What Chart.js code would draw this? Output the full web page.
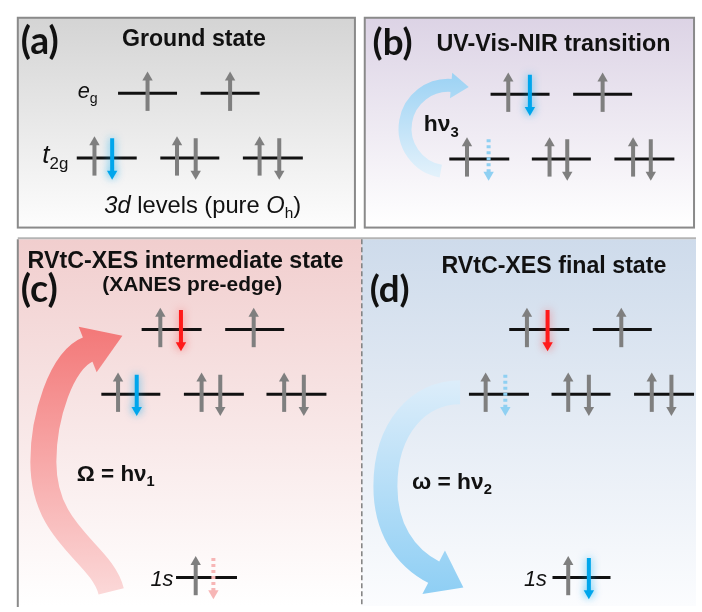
<!DOCTYPE html>
<html>
<head>
    <title>3d levels - RVtC-XES scheme</title>
    <style>
        html, body {
            margin: 0;
            padding: 0;
            background: #ffffff;
        }
        #diagram {
            display: block;
        }
    </style>
    <script src="https://cdn.jsdelivr.net/npm/chart.js"></script>
</head>
<body>
    <canvas id="diagram" width="702" height="612"></canvas>
    <script>
        // energy level bars, [xStart, xEnd, y] in picture units
        const levelsA = [[114, 174, 89], [198, 258, 89], [72, 133, 155], [157, 217, 155], [241, 302, 155]];
        const levelsB = [[493, 553, 90], [577, 637, 90], [451, 512, 156], [535, 595, 156], [619, 680, 156]];
        const levelsC = [[138, 199, 330], [223, 283, 330], [97, 157, 396], [181, 242, 396], [265, 326, 396], [173, 235, 583]];
        const levelsD = [[512, 573, 330], [597, 657, 330], [471, 532, 396], [555, 615, 396], [639, 700, 396], [556, 615, 583]];

        // electrons, [x, y of the level they sit on]
        const spinUp = [
            [144, 89], [228, 89], [90, 155], [174, 155], [258, 155],
            [511, 90], [607, 90], [469, 156], [553, 156], [638, 156],
            [157, 330], [252, 330], [114, 396], [199, 396], [283, 396], [193, 583],
            [530, 330], [626, 330], [488, 396], [572, 396], [657, 396], [572, 583]
        ];
        const spinDown = [[193, 155], [278, 155], [571, 156], [656, 156], [218, 396], [303, 396], [593, 396], [677, 396]];
        const spinDownBlue = [[108, 155], [533, 90], [133, 396], [593, 583]];
        const spinDownRed = [[178, 330], [551, 330]];
        const holeBlue = [[491, 156], [508, 396]];
        const holePink = [[211, 583]];

        const panelLetters = ['(a)', '(b)', '(c)', '(d)'];
        const panelTitles = ['Ground state', 'UV-Vis-NIR transition', 'RVtC-XES intermediate state', 'RVtC-XES final state'];
        const subTitle = '(XANES pre-edge)';

        const GRAY = '#7f7f7f';
        const HEAD = 6;

        const datasets = [];

        [levelsA, levelsB, levelsC, levelsD].flat().forEach(l => {
            datasets.push({
                data: [{ x: l[0], y: l[2] }, { x: l[1], y: l[2] }],
                borderColor: '#111111',
                borderWidth: 3,
                pointRadius: 0,
                order: 2
            });
        });

        function spin(s, up, color, extra) {
            const x = s[0], y = s[1];
            const pts = up
                ? [{ x: x, y: y + 18 }, { x: x, y: y - 22 + HEAD }]
                : [{ x: x, y: y - 20 }, { x: x, y: y + 22 - HEAD }];
            datasets.push(Object.assign({
                data: pts,
                borderColor: color,
                borderWidth: 4,
                borderCapStyle: 'butt',
                pointRadius: [0, HEAD],
                pointStyle: 'triangle',
                pointRotation: up ? 0 : 180,
                pointBackgroundColor: color,
                pointBorderWidth: 0,
                order: 1
            }, extra || {}));
        }

        spinUp.forEach(s => spin(s, true, GRAY));
        spinDown.forEach(s => spin(s, false, GRAY));
        spinDownBlue.forEach(s => spin(s, false, '#00a6ec', { glow: 'rgba(0,170,240,0.7)' }));
        spinDownRed.forEach(s => spin(s, false, '#ff1a1a', { glow: 'rgba(255,60,60,0.55)' }));
        holeBlue.forEach(s => spin(s, false, '#8fd0f2', { borderDash: [3, 3] }));
        holePink.forEach(s => spin(s, false, '#f7b6b6', { borderDash: [3, 3] }));

        // text runs: t text, b bold, i italic, s subscript
        function runFont(r, size) {
            const fam = r.f || '"Liberation Sans", Arial, sans-serif';
            return (r.i ? 'italic ' : '') + (r.b ? 'bold ' : '') + (r.s ? size * 0.65 : size) + 'px ' + fam;
        }
        function drawRuns(ctx, runs, x, y, width) {
            let total = 0;
            runs.forEach(r => { ctx.font = runFont(r, 100); total += ctx.measureText(r.t).width; });
            const size = 100 * width / total;
            let cx = x;
            runs.forEach(r => {
                ctx.font = runFont(r, size);
                ctx.fillText(r.t, cx, y + (r.s ? size * 0.22 : 0));
                cx += ctx.measureText(r.t).width;
            });
        }

        function curvedArrow(ctx, X, Y, path, lw, grad, head) {
            ctx.save();
            ctx.beginPath();
            path();
            ctx.lineWidth = lw;
            ctx.lineCap = 'butt';
            ctx.strokeStyle = grad;
            ctx.stroke();
            const ex = head[0], ey = head[1], hw = head[4], len = head[5];
            const m = Math.hypot(head[2], head[3]);
            const dx = head[2] / m, dy = head[3] / m;
            ctx.beginPath();
            ctx.moveTo(X(ex - dx - dy * hw), Y(ey - dy + dx * hw));
            ctx.lineTo(X(ex + dx * len), Y(ey + dy * len));
            ctx.lineTo(X(ex - dx + dy * hw), Y(ey - dy - dx * hw));
            ctx.closePath();
            ctx.fillStyle = grad;
            ctx.fill();
            ctx.restore();
        }

        const diagramPlugin = {
            id: 'diagram',
            beforeDraw(chart) {
                const ctx = chart.ctx;
                const X = v => chart.scales.x.getPixelForValue(v);
                const Y = v => chart.scales.y.getPixelForValue(v);
                ctx.save();
                function panel(x0, y0, x1, y1, top, bottom) {
                    const g = ctx.createLinearGradient(0, Y(y0), 0, Y(y1));
                    g.addColorStop(0, top);
                    g.addColorStop(1, bottom);
                    ctx.fillStyle = g;
                    ctx.fillRect(X(x0), Y(y0), X(x1) - X(x0), Y(y1) - Y(y0));
                }
                panel(12, 12, 355, 226, '#d4d4d4', '#fdfdfd');
                panel(365, 12, 701, 226, '#dcd3e5', '#ffffff');
                panel(12, 238, 362, 612, '#f1cece', '#ffffff');
                panel(362, 238, 702, 612, '#cedbeb', '#fbfcfe');

                ctx.strokeStyle = '#8a8a8a';
                ctx.lineWidth = 2;
                ctx.strokeRect(X(12), Y(12), X(355) - X(12), Y(226) - Y(12));
                ctx.strokeRect(X(365), Y(12), X(700) - X(365), Y(226) - Y(12));
                ctx.beginPath();
                ctx.moveTo(X(12), Y(613));
                ctx.lineTo(X(12), Y(238));
                ctx.stroke();
                ctx.strokeStyle = '#b4b4b4';
                ctx.beginPath();
                ctx.moveTo(X(12), Y(237));
                ctx.lineTo(X(702), Y(237));
                ctx.stroke();

                ctx.strokeStyle = '#7f7f7f';
                ctx.lineWidth = 1.5;
                ctx.setLineDash([5, 3]);
                ctx.beginPath();
                ctx.moveTo(X(362), Y(238));
                ctx.lineTo(X(362), Y(612));
                ctx.stroke();
                ctx.restore();
            },
            beforeDatasetsDraw(chart) {
                const ctx = chart.ctx;
                const X = v => chart.scales.x.getPixelForValue(v);
                const Y = v => chart.scales.y.getPixelForValue(v);
                const deg = Math.PI / 180;

                // h nu 3 in (b)
                let g = ctx.createLinearGradient(0, Y(72), 0, Y(172));
                g.addColorStop(0, '#9ed3f4');
                g.addColorStop(1, '#e2f1fb');
                const cx = 450, cy = 125, r = 44;
                curvedArrow(ctx, X, Y, () => {
                    ctx.arc(X(cx), Y(cy), X(cx + r) - X(cx), 100 * deg, 275 * deg);
                }, 13, g, [cx + r * Math.cos(275 * deg), cy + r * Math.sin(275 * deg),
                    -Math.sin(275 * deg), Math.cos(275 * deg), 13, 17]);

                // Omega = h nu 1 in (c)
                g = ctx.createLinearGradient(0, Y(325), 0, Y(600));
                g.addColorStop(0, '#f37777');
                g.addColorStop(1, '#fbd8d8');
                curvedArrow(ctx, X, Y, () => {
                    ctx.moveTo(X(107), Y(597));
                    ctx.bezierCurveTo(X(97), Y(557), X(38), Y(540), X(38), Y(465));
                    ctx.bezierCurveTo(X(38), Y(420), X(56), Y(361), X(84), Y(350));
                }, 26, g, [84, 350, 28, -11, 25, 37]);

                // omega = h nu 2 in (d)
                g = ctx.createLinearGradient(0, Y(383), 0, Y(605));
                g.addColorStop(0, '#dcedfa');
                g.addColorStop(1, '#8dcef4');
                curvedArrow(ctx, X, Y, () => {
                    ctx.moveTo(X(462), Y(394));
                    ctx.bezierCurveTo(X(420), Y(394), X(386), Y(430), X(386), Y(490));
                    ctx.bezierCurveTo(X(386), Y(532), X(405), Y(562), X(436), Y(578));
                }, 24, g, [436, 578, 31, 16, 25, 33]);
            },
            beforeDatasetDraw(chart, args) {
                const ds = chart.data.datasets[args.index];
                if (ds.glow) {
                    chart.ctx.save();
                    chart.ctx.shadowColor = ds.glow;
                    chart.ctx.shadowBlur = 9;
                }
            },
            afterDatasetDraw(chart, args) {
                const ds = chart.data.datasets[args.index];
                if (ds.glow) chart.ctx.restore();
            },
            afterDatasetsDraw(chart) {
                const ctx = chart.ctx;
                const X = v => chart.scales.x.getPixelForValue(v);
                const Y = v => chart.scales.y.getPixelForValue(v);
                ctx.save();
                ctx.fillStyle = '#111111';
                ctx.textBaseline = 'alphabetic';
                ctx.textAlign = 'left';
                const letterFont = 'Lato, "Open Sans", sans-serif';
                drawRuns(ctx, [{ t: panelLetters[0], b: true, f: letterFont }], X(15), Y(49), 38);
                drawRuns(ctx, [{ t: panelLetters[1], b: true, f: letterFont }], X(373), Y(50), 40);
                drawRuns(ctx, [{ t: panelLetters[2], b: true, f: letterFont }], X(15), Y(302), 37);
                drawRuns(ctx, [{ t: panelLetters[3], b: true, f: letterFont }], X(370), Y(302), 40);

                drawRuns(ctx, [{ t: panelTitles[0], b: true }], X(118), Y(41), 144);
                drawRuns(ctx, [{ t: panelTitles[1], b: true }], X(438), Y(46), 234);
                drawRuns(ctx, [{ t: panelTitles[2], b: true }], X(22), Y(267), 316);
                drawRuns(ctx, [{ t: subTitle, b: true }], X(98), Y(291), 180);
                drawRuns(ctx, [{ t: panelTitles[3], b: true }], X(443), Y(272), 225);

                drawRuns(ctx, [{ t: 'e', i: true }, { t: 'g', s: true }], X(73), Y(94), 20);
                drawRuns(ctx, [{ t: 't', i: true }, { t: '2g', s: true }], X(37), Y(160), 26);
                drawRuns(ctx, [{ t: '3d', i: true }, { t: ' levels (pure ' }, { t: 'O', i: true },
                    { t: 'h', s: true }, { t: ')' }], X(100), Y(211), 197);

                drawRuns(ctx, [{ t: 'hν', b: true }, { t: '3', b: true, s: true }], X(425), Y(128), 35);
                drawRuns(ctx, [{ t: 'Ω = hν', b: true }, { t: '1', b: true, s: true }], X(72), Y(485), 78);
                drawRuns(ctx, [{ t: 'ω = hν', b: true }, { t: '2', b: true, s: true }], X(413), Y(493), 80);
                drawRuns(ctx, [{ t: '1s', i: true }], X(147), Y(592), 23);
                drawRuns(ctx, [{ t: '1s', i: true }], X(527), Y(592), 23);
                ctx.restore();
            }
        };

        new Chart(document.getElementById('diagram').getContext('2d'), {
            type: 'line',
            data: { datasets: datasets },
            options: {
                responsive: false,
                animation: false,
                events: [],
                layout: { padding: 0 },
                plugins: {
                    legend: { display: false },
                    tooltip: { enabled: false }
                },
                scales: {
                    x: { type: 'linear', min: 0, max: 702, display: false },
                    y: { type: 'linear', min: 0, max: 612, reverse: true, display: false }
                }
            },
            plugins: [diagramPlugin]
        });
    </script>
</body>
</html>
